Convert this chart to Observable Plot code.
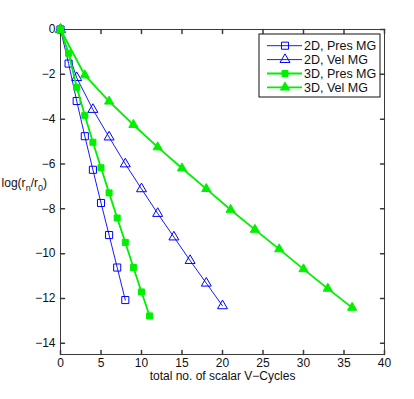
<!DOCTYPE html>
<html>
<head>
<meta charset="utf-8">
<script src="https://cdn.jsdelivr.net/npm/d3@7"></script>
<script src="https://cdn.jsdelivr.net/npm/@observablehq/plot@0.6"></script>
<style>
  html, body { margin: 0; padding: 0; background: #fff; }
  #chart { width: 414px; height: 399px; }
</style>
</head>
<body>
<div id="chart"></div>
<script>
// ---- data ----
const xTicks = [0, 5, 10, 15, 20, 25, 30, 35, 40];
const yTicks = [0, -2, -4, -6, -8, -10, -12, -14];
const xLabel = "total no. of scalar V\u2212Cycles";

const pres2dX = [0, 1, 2, 3, 4, 5, 6, 7, 8];
const pres2dY = [0, -1.52, -3.19, -4.76, -6.26, -7.74, -9.17, -10.62, -12.07];

const vel2dX = [0, 2, 4, 6, 8, 10, 12, 14, 16, 18, 20];
const vel2dY = [0, -2.15, -3.57, -4.80, -6.00, -7.11, -8.21, -9.26, -10.31, -11.32, -12.33];

const pres3dX = [0, 1, 2, 3, 4, 5, 6, 7, 8, 9, 10, 11];
const pres3dY = [0, -1.06, -2.58, -3.83, -5.03, -6.17, -7.29, -8.41, -9.50, -10.62, -11.71, -12.78];

const vel3dX = [0, 3, 6, 9, 12, 15, 18, 21, 24, 27, 30, 33, 36];
const vel3dY = [0, -2.04, -3.21, -4.25, -5.25, -6.19, -7.11, -8.04, -8.93, -9.80, -10.69, -11.56, -12.41];

const seriesNames = ["2D, Pres MG", "2D, Vel MG", "3D, Pres MG", "3D, Vel MG"];

// ---- styles ----
const styles = [
  {stroke: "#0000ff", lw: 0.9, symbol: "square",   r: 4.0, fill: "none",    mstroke: "#0000ff"},
  {stroke: "#0000ff", lw: 0.9, symbol: "triangle", r: 3.7, fill: "none",    mstroke: "#0000ff"},
  {stroke: "#00f000", lw: 1.8, symbol: "square",   r: 3.4, fill: "#00f000", mstroke: "#00f000"},
  {stroke: "#00f000", lw: 1.8, symbol: "triangle", r: 3.4, fill: "#00f000", mstroke: "#00f000"}
];
const seriesData = [
  [pres2dX, pres2dY], [vel2dX, vel2dY], [pres3dX, pres3dY], [vel3dX, vel3dY]
].map(([xs, ys], i) => xs.map((x, j) => ({x, y: ys[j], s: seriesNames[i]})));

const axisColor = "#3a3a3a";
const tickShape = {draw(ctx, l) { ctx.moveTo(0, 0); ctx.lineTo(0, -l); }};
const tickLen = 4;

const marks = [
  Plot.frame({stroke: axisColor, strokeWidth: 1}),
  // inward ticks on all four sides
  Plot.vector(xTicks, {x: d => d, frameAnchor: "bottom", anchor: "start", length: tickLen, rotate: 0, shape: tickShape, stroke: axisColor}),
  Plot.vector(xTicks, {x: d => d, frameAnchor: "top", anchor: "start", length: tickLen, rotate: 180, shape: tickShape, stroke: axisColor}),
  Plot.vector(yTicks, {y: d => d, frameAnchor: "left", anchor: "start", length: tickLen, rotate: 90, shape: tickShape, stroke: axisColor}),
  Plot.vector(yTicks, {y: d => d, frameAnchor: "right", anchor: "start", length: tickLen, rotate: 270, shape: tickShape, stroke: axisColor}),
  Plot.axisX({ticks: xTicks, tickSize: 0, tickPadding: 4, label: null, fill: "#111"}),
  Plot.axisY({ticks: yTicks, tickSize: 0, tickPadding: 5, label: null, fill: "#111"}),
  Plot.text([xLabel], {text: d => d, frameAnchor: "bottom", dy: 25, fill: "#111"})
];
seriesData.forEach((data, i) => {
  const st = styles[i];
  marks.push(Plot.line(data, {x: "x", y: "y", stroke: st.stroke, strokeWidth: st.lw}));
  marks.push(Plot.dot(data, {x: "x", y: "y", symbol: () => st.symbol, r: st.r, fill: st.fill, stroke: st.mstroke, strokeWidth: 1}));
});

const chart = Plot.plot({
  width: 414,
  height: 399,
  marginLeft: 60,
  marginRight: 30,
  marginTop: 29,
  marginBottom: 45,
  x: {domain: [0, 40]},
  y: {domain: [-14.5, 0]},
  symbol: {type: "identity"},
  style: {fontFamily: "'Liberation Sans', Arial, Helvetica, sans-serif", fontSize: "12px", background: "#fff", color: "#111"},
  marks
});
document.getElementById("chart").appendChild(chart);

// ---- y label (horizontal, with subscripts) ----
const svg = d3.select(chart);
const yl = svg.append("text")
  .attr("x", 47).attr("y", 187)
  .attr("text-anchor", "end")
  .attr("font-size", "12px")
  .attr("fill", "#111");
yl.append("tspan").text("log(r");
yl.append("tspan").attr("dy", 4).attr("font-size", "9px").text("n");
yl.append("tspan").attr("dy", -4).text("/r");
yl.append("tspan").attr("dy", 4).attr("font-size", "9px").text("0");
yl.append("tspan").attr("dy", -4).text(")");

// ---- legend ----
const lg = svg.append("g").attr("transform", "translate(259,34)");
lg.append("rect").attr("width", 121).attr("height", 63).attr("fill", "#fff").attr("stroke", "#111").attr("stroke-width", 1);
seriesNames.forEach((name, i) => {
  const st = styles[i];
  const y = 11.7 + i * 13.9;
  lg.append("line").attr("x1", 8).attr("x2", 43).attr("y1", y).attr("y2", y)
    .attr("stroke", st.stroke).attr("stroke-width", st.lw);
  const sym = st.symbol === "square" ? d3.symbolSquare : d3.symbolTriangle;
  lg.append("path").attr("d", d3.symbol(sym, Math.PI * st.r * st.r)())
    .attr("transform", `translate(26,${y})`)
    .attr("fill", st.fill).attr("stroke", st.mstroke).attr("stroke-width", 1);
  lg.append("text").attr("x", 45).attr("y", y).attr("dy", "0.35em")
    .attr("text-anchor", "start")
    .attr("font-size", "12.5px").attr("fill", "#111").text(name);
});
</script>
</body>
</html>
